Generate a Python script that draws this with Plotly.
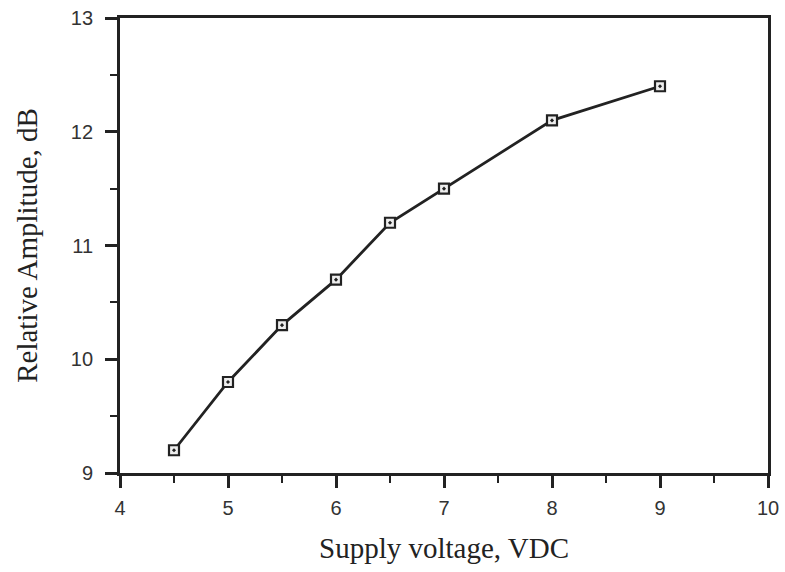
import plotly.graph_objects as go

voltage = [4.5, 5, 5.5, 6, 6.5, 7, 8, 9]
amplitude = [9.2, 9.8, 10.3, 10.7, 11.2, 11.5, 12.1, 12.4]
x_ticks = [4, 5, 6, 7, 8, 9, 10]
y_ticks = [9, 10, 11, 12, 13]

fig = go.Figure()
fig.add_trace(go.Scatter(
    x=voltage, y=amplitude, mode="lines+markers",
    line=dict(color="#222", width=2.8),
    marker=dict(symbol="square-dot", size=10, color="#eeeeee",
                line=dict(color="#222", width=2.2)),
    showlegend=False,
))

axis_common = dict(
    showline=True, linecolor="#222", linewidth=2.8, mirror=True,
    ticks="outside", ticklen=12, tickwidth=2.8, tickcolor="#222",
    showgrid=False, zeroline=False, automargin=False,
    tickfont=dict(family="Liberation Sans, Arial, sans-serif", size=20, color="#333"),
    minor=dict(ticks="outside", ticklen=7, tickwidth=2.2, tickcolor="#222", dtick=0.5),
)

title_font = dict(family="Liberation Serif, Times New Roman, serif", size=29, color="#222")

fig.update_xaxes(range=[4, 10], tickvals=x_ticks, ticktext=[str(v) for v in x_ticks],
                 ticklabelstandoff=3,
                 title=dict(text="Supply voltage, VDC", standoff=20, font=title_font),
                 **axis_common)
fig.update_yaxes(range=[9, 13.0001], tickvals=y_ticks, ticktext=[str(v) for v in y_ticks],
                 ticklabelstandoff=8,
                 title=dict(text="Relative Amplitude, dB", standoff=25, font=title_font),
                 **axis_common)

fig.update_layout(
    width=785, height=572,
    margin=dict(l=120, r=17, t=18, b=99),
    paper_bgcolor="white", plot_bgcolor="white",
)

fig.write_html("out.html", config={"displayModeBar": False},
               post_script="document.body.style.margin='0';")
